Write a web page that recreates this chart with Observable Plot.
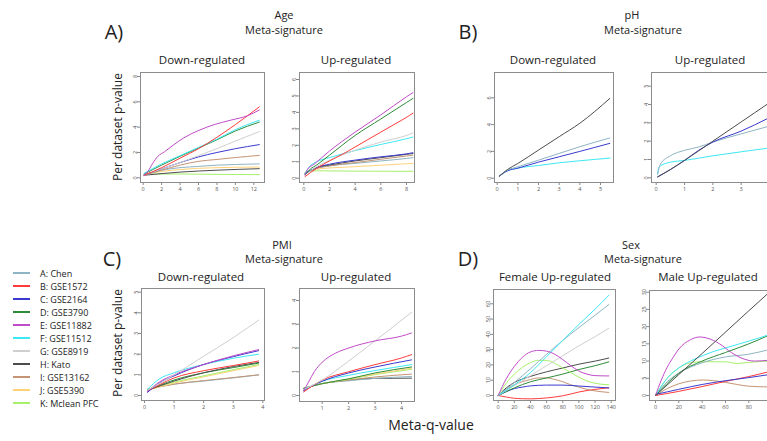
<!DOCTYPE html>
<html><head><meta charset="utf-8">
<script src="https://cdn.jsdelivr.net/npm/d3@7"></script>
<script src="https://cdn.jsdelivr.net/npm/@observablehq/plot@0.6"></script>
<style>
body{margin:0;background:#fff;}
#root{position:relative;width:767px;height:441px;overflow:hidden;font-family:"Open Sans",sans-serif;color:#222;}
.t{position:absolute;transform:translate(-50%,-50%);white-space:nowrap;line-height:1;}
.p{position:absolute;}
</style></head>
<body><div id="root"></div>
<script>
// ---- series ----
const codes = ["A","B","C","D","E","F","G","H","I","J","K"];
const seriesNames = ["A: Chen","B: GSE1572","C: GSE2164","D: GSE3790","E: GSE11882","F: GSE11512","G: GSE8919","H: Kato","I: GSE13162","J: GSE5390","K: Mclean PFC"];
const seriesColors = ["#8fb5c4","#ff3b3b","#3a3ad0","#2e8b3a","#c04cc8","#3ee8f5","#cfcfcf","#4d4d4d","#c49474","#ffd27a","#a6f06a"];

// ---- data: [series, [[meta-q, per-dataset p], ...]] ----
const ageDown = [
 ["K",[[0.1,0.3],[4,0.3],[8,0.27],[12.6,0.25]]],
 ["J",[[0.1,0.3],[2,0.5],[4,0.65],[6,0.75],[8,0.8],[12.6,0.85]]],
 ["H",[[0.1,0.2],[4,0.45],[8,0.6],[12.6,0.72]]],
 ["A",[[0.1,0.25],[2,0.6],[4,0.8],[6,0.9],[8,1.0],[10,1.05],[12.6,1.1]]],
 ["I",[[0.1,0.2],[2,0.6],[4,1.0],[6,1.3],[8,1.45],[10,1.6],[12.6,1.77]]],
 ["C",[[0.1,0.2],[2,0.7],[4,1.2],[6,1.65],[8,2.0],[10,2.3],[12.6,2.62]]],
 ["G",[[0.1,0.2],[2,0.7],[4,1.2],[6,1.75],[8,2.3],[10,2.9],[12.6,3.65]]],
 ["D",[[0.1,0.3],[2,1.0],[4,1.7],[6,2.35],[8,3.0],[10,3.7],[12.6,4.4]]],
 ["F",[[0.1,0.35],[2,1.1],[4,1.75],[6,2.4],[8,3.05],[10,3.8],[12.6,4.55]]],
 ["B",[[0.1,0.2],[2,0.8],[4,1.55],[6,2.3],[8,3.2],[10,4.2],[12.6,5.6]]],
 ["E",[[0.1,0.2],[0.5,0.5],[1,1.1],[1.6,1.7],[2.3,2.05],[3.3,2.6],[4.4,3.15],[5.9,3.7],[7.7,4.2],[9.5,4.55],[11.3,4.9],[12.6,5.35]]]
];
const ageUp = [
 ["K",[[0.1,0.35],[1,0.45],[4,0.43],[8.5,0.42]]],
 ["J",[[0.1,0.35],[1,0.55],[4,0.7],[8,0.88],[8.5,0.9]]],
 ["A",[[0.1,0.3],[1,0.6],[2,0.75],[4,0.9],[6,1.05],[8,1.2],[8.5,1.25]]],
 ["I",[[0.1,0.3],[1,0.6],[2,0.75],[4,0.95],[6,1.15],[8,1.35],[8.5,1.4]]],
 ["H",[[0.1,0.25],[1,0.65],[2,0.8],[4,1.05],[6,1.25],[8,1.45],[8.5,1.5]]],
 ["C",[[0.1,0.3],[1,0.65],[2,0.85],[4,1.1],[6,1.3],[8,1.48],[8.5,1.55]]],
 ["F",[[0.1,0.3],[0.5,0.75],[1,1.0],[2,1.25],[4,1.68],[6,2.05],[8,2.4],[8.5,2.5]]],
 ["G",[[0.1,0.2],[1,0.7],[2,1.1],[4,1.7],[6,2.2],[8,2.6],[8.5,2.75]]],
 ["B",[[0.1,0.1],[1,0.6],[2,1.05],[3,1.45],[4,1.9],[5,2.35],[6,2.8],[7,3.25],[8,3.7],[8.5,3.95]]],
 ["D",[[0.1,0.2],[0.5,0.55],[1,0.8],[2,1.4],[4,2.6],[6,3.6],[8,4.6],[8.5,4.85]]],
 ["E",[[0.1,0.2],[0.3,0.55],[0.8,0.85],[2,1.65],[4,2.8],[6,3.85],[8,4.95],[8.5,5.2]]]
];
const phDown = [
 ["F",[[0.1,0.15],[0.5,0.55],[1,0.75],[2,0.95],[3,1.15],[4,1.3],[5.45,1.5]]],
 ["C",[[0.1,0.15],[0.5,0.55],[1,0.75],[2,1.2],[3,1.6],[4,2.0],[5.45,2.6]]],
 ["A",[[0.1,0.15],[0.5,0.6],[1,0.85],[2,1.35],[3,1.85],[4,2.35],[5.45,3.0]]],
 ["H",[[0.1,0.15],[0.5,0.65],[1,1.1],[2,2.1],[3,3.1],[4,4.1],[5.45,5.95]]]
];
const phUp = [
 ["F",[[0.05,0.2],[0.1,0.6],[0.5,0.85],[1,0.95],[2,1.2],[3,1.42],[3.95,1.62]]],
 ["A",[[0.05,0.2],[0.15,0.75],[0.5,1.2],[1,1.5],[1.5,1.68],[2,1.95],[3,2.4],[3.95,2.8]]],
 ["C",[[0.05,0.05],[0.5,0.45],[1,0.95],[1.5,1.5],[2,1.95],[3,2.55],[3.95,3.25]]],
 ["H",[[0.05,0.05],[0.5,0.45],[1,0.95],[2,2.0],[3,3.05],[3.95,4.05]]]
];
const pmiDown = [
 ["A",[[0.1,0.3],[1,0.55],[2,0.7],[3,0.85],[3.86,1.0]]],
 ["I",[[0.1,0.3],[1,0.55],[2,0.72],[3,0.87],[3.86,1.0]]],
 ["J",[[0.1,0.25],[1,0.6],[2,0.9],[3,1.2],[3.86,1.45]]],
 ["K",[[0.1,0.3],[1,0.65],[2,0.95],[3,1.25],[3.86,1.5]]],
 ["D",[[0.1,0.25],[1,0.75],[2,1.1],[3,1.35],[3.86,1.57]]],
 ["H",[[0.1,0.25],[1,0.7],[2,1.1],[3,1.4],[3.86,1.6]]],
 ["B",[[0.1,0.2],[1,0.85],[2,1.2],[3,1.45],[3.86,1.67]]],
 ["F",[[0.1,0.3],[0.5,0.8],[1,1.1],[2,1.5],[3,1.8],[3.86,2.0]]],
 ["C",[[0.1,0.15],[0.5,0.6],[1,0.95],[2,1.5],[3,1.88],[3.86,2.17]]],
 ["E",[[0.1,0.2],[0.5,0.65],[1,1.0],[2,1.5],[3,1.92],[3.86,2.22]]],
 ["G",[[0.1,0.25],[1,1.0],[2,1.9],[3,2.8],[3.86,3.65]]]
];
const pmiUp = [
 ["H",[[0.3,0.3],[1,0.5],[2,0.65],[3,0.72],[4.38,0.73]]],
 ["A",[[0.3,0.3],[1,0.5],[2,0.62],[3,0.72],[4.38,0.8]]],
 ["I",[[0.3,0.3],[1,0.5],[2,0.65],[3,0.78],[4.38,0.9]]],
 ["K",[[0.3,0.3],[1,0.5],[2,0.68],[3,0.88],[4.38,1.1]]],
 ["J",[[0.3,0.3],[1,0.5],[2,0.7],[3,0.9],[4.38,1.15]]],
 ["D",[[0.3,0.3],[1,0.5],[2,0.7],[3,0.95],[4.38,1.2]]],
 ["F",[[0.3,0.25],[1,0.6],[2,0.85],[3,1.05],[4.38,1.3]]],
 ["C",[[0.3,0.2],[1,0.6],[2,0.95],[3,1.2],[4.38,1.5]]],
 ["B",[[0.3,0.15],[1,0.65],[2,1.0],[3,1.3],[4,1.58],[4.38,1.72]]],
 ["G",[[0.3,0.25],[1,0.65],[2,1.45],[3,2.3],[4.38,3.5]]],
 ["E",[[0.3,0.2],[0.5,0.6],[0.7,1.0],[1,1.4],[1.5,1.78],[2,2.0],[3,2.3],[4,2.5],[4.38,2.63]]]
];
const sexFemale = [
 ["B",[[0,0],[10,-1],[20,-1.8],[30,-2.1],[40,-2.2],[50,-2],[60,-1.6],[70,-1],[80,-0.2],[90,1],[100,2.3],[120,4],[137,5]]],
 ["I",[[0,0],[10,4],[20,7],[30,9],[40,10.5],[50,11.5],[60,11.5],[70,10.5],[80,9],[90,7],[100,5.5],[110,4],[120,3],[137,2]]],
 ["C",[[0,0],[10,2.5],[20,4.5],[30,5.5],[40,6.3],[60,6.8],[80,6.8],[100,6.2],[120,5.5],[137,5]]],
 ["D",[[0,0],[20,5],[40,9],[60,11.5],[80,14],[100,17],[120,19.5],[137,22]]],
 ["H",[[0,0],[10,5],[20,8.5],[40,12.5],[60,15.5],[80,18],[100,20.5],[120,22.5],[137,24.5]]],
 ["K",[[0,0],[10,8],[20,14],[30,18.5],[40,21.5],[50,23],[60,23],[70,21],[80,18],[90,15],[100,12],[110,9.5],[120,8],[137,7]]],
 ["G",[[0,0],[20,6.5],[40,13],[60,19.5],[80,26],[100,32.5],[120,38.5],[137,44]]],
 ["A",[[0,0],[20,8.5],[40,17.5],[60,27],[80,36],[100,44.5],[120,52.5],[137,59.5]]],
 ["F",[[0,0],[20,7],[40,15],[60,25.5],[80,36],[100,46.5],[120,56.5],[137,65.5]]],
 ["E",[[0,0],[10,11],[20,19],[30,25],[40,28.5],[50,29.5],[60,29],[70,27],[80,23.5],[90,19.5],[100,16],[110,14],[120,13],[137,12.8]]]
];
const sexMale = [
 ["I",[[0,0],[10,2],[20,3.4],[30,4.2],[40,4.5],[50,4.3],[60,3.8],[70,3.2],[80,2.7],[96,2.5]]],
 ["B",[[0,0],[20,1.2],[40,2.6],[60,4.1],[80,5.5],[96,6.8]]],
 ["C",[[0,0.3],[20,1.8],[40,3.2],[60,4.3],[80,5.2],[96,6.0]]],
 ["K",[[0,0],[10,5],[20,8],[30,9.5],[40,9.8],[60,9.8],[70,9.3],[80,9.6],[96,10]]],
 ["A",[[0,0],[10,4],[20,6.5],[40,9.5],[60,11.2],[80,12],[96,13.2]]],
 ["D",[[0,0],[10,3.5],[20,6.5],[40,10],[60,12.5],[80,15],[96,17.3]]],
 ["F",[[0,0],[10,5],[20,8],[30,10],[40,11.5],[50,12.8],[60,13.8],[70,14.8],[80,15.8],[96,17.5]]],
 ["E",[[0,0],[5,4.5],[10,8.2],[15,11],[20,13.5],[30,16.2],[38,17],[45,16.6],[55,15],[65,12.5],[75,10.7],[85,10],[96,10.2]]],
 ["H",[[0,0],[40,12.2],[80,24.6],[96,29.5]]]
];

// ---- tick labels ----
const ticksAgeDownX=[0,2,4,6,8,10,12], ticksAgeDownY=[0,2,4,6,8];
const ticksAgeUpX=[0,2,4,6,8], ticksAgeUpY=[0,1,2,3,4,5,6];
const ticksPhDownX=[0,1,2,3,4,5], ticksPhDownY=[0,2,4,6];
const ticksPhUpX=[0,1,2,3], ticksPhUpY=[0,1,2,3,4,5];
const ticksPmiDownX=[0,1,2,3,4], ticksPmiDownY=[0,1,2,3,4,5];
const ticksPmiUpX=[1,2,3,4], ticksPmiUpY=[0,1,2,3,4];
const ticksFemX=[0,20,40,60,80,100,120,140], ticksFemY=[0,10,20,30,40,50,60];
const ticksMaleX=[0,20,40,60,80], ticksMaleY=[0,5,10,15,20,25,30];

// ---- layout (page pixels) ----
const panels = [
 {data:ageDown, frame:[140,264,72,182], xcal:[[0,142.7],[12,253.3]], ycal:[[0,177.3],[8,76]], xt:ticksAgeDownX, yt:ticksAgeDownY, title:"Down-regulated", tx:202, ty:60},
 {data:ageUp, frame:[299,414,72,182], xcal:[[0,303.3],[8,406]], ycal:[[0,177.7],[6,79]], xt:ticksAgeUpX, yt:ticksAgeUpY, title:"Up-regulated", tx:356, ty:60},
 {data:phDown, frame:[494,613,72,182], xcal:[[0,496.7],[5,600]], ycal:[[0,177.7],[6,97.3]], xt:ticksPhDownX, yt:ticksPhDownY, title:"Down-regulated", tx:553, ty:60},
 {data:phUp, frame:[651,772,72,182], xcal:[[0,655.7],[3,740.7]], ycal:[[0,177.3],[5,85.7]], xt:ticksPhUpX, yt:ticksPhUpY, title:"Up-regulated", tx:710, ty:60},
 {data:pmiDown, frame:[141,264,288,400], xcal:[[0,144],[4,262.3]], ycal:[[0,395],[5,291.7]], xt:ticksPmiDownX, yt:ticksPmiDownY, title:"Down-regulated", tx:201, ty:277},
 {data:pmiUp, frame:[299,414,288,401], xcal:[[1,321.7],[4,401]], ycal:[[0,395],[4,300]], xt:ticksPmiUpX, yt:ticksPmiUpY, title:"Up-regulated", tx:356, ty:277},
 {data:sexFemale, frame:[493,615,289,400], xcal:[[0,497.7],[140,610.7]], ycal:[[0,395],[60,303.3]], xt:ticksFemX, yt:ticksFemY, title:"Female Up-regulated", tx:555, ty:277},
 {data:sexMale, frame:[649,772,290,400], xcal:[[0,655],[80,748.3]], ycal:[[0,395],[30,291.7]], xt:ticksMaleX, yt:ticksMaleY, title:"Male Up-regulated", tx:708, ty:277}
];

const root = document.getElementById("root");
function text(str, x, y, css){
  const d = document.createElement("div");
  d.className = "t"; d.textContent = str;
  d.style.left = x+"px"; d.style.top = y+"px";
  Object.assign(d.style, css||{});
  root.appendChild(d); return d;
}
function dom(cal, p0, p1){
  const [[v0,q0],[v1,q1]] = cal; const k = (v1-v0)/(q1-q0);
  return [v0+(p0-q0)*k, v0+(p1-q0)*k];
}
const ML=18, MR=2, MT=2, MB=14;
const fmt = d => String(d);
for (const p of panels){
  const [x0,x1,y0,y1] = p.frame;
  const rows = p.data.flatMap(([s,pts]) => pts.map(([x,y]) => ({s,x,y})));
  const chart = Plot.plot({
    width: (x1-x0)+ML+MR, height: (y1-y0)+MT+MB,
    marginLeft: ML, marginRight: MR, marginTop: MT, marginBottom: MB,
    x: {type:"linear", domain: dom(p.xcal, x0, x1)},
    y: {type:"linear", domain: dom(p.ycal, y1, y0)},
    color: {domain: codes, range: seriesColors},
    style: {background:"transparent", overflow:"visible", fontFamily:"Open Sans, sans-serif"},
    marks: [
      Plot.axisX({ticks: p.xt, tickFormat: fmt, tickSize: 3, tickPadding: 1.5, fontSize: 5.5, color:"#555", stroke:"#888", label: null}),
      Plot.axisY({ticks: p.yt, tickFormat: fmt, tickSize: 3, tickPadding: 1, tickRotate: -90, fontSize: 5.5, color:"#555", stroke:"#888", label: null}),
      Plot.line(rows, {x:"x", y:"y", z:"s", stroke:"s", strokeWidth: 1, curve:"monotone-x", clip: true}),
      Plot.frame({stroke:"#8c8c8c", strokeWidth: 1})
    ]
  });
  chart.classList.add("p");
  chart.style.left = (x0-ML)+"px"; chart.style.top = (y0-MT)+"px";
  root.appendChild(chart);
  text(p.title, p.tx, p.ty, {fontSize:"11.5px"});
}

// section headers
const big = {fontSize:"20px"}; const sub = {fontSize:"11px"};
text("A)", 114, 32, big); text("Age", 284, 14, sub); text("Meta-signature", 284, 28.5, sub);
text("B)", 468, 32, big); text("pH", 632, 14, sub); text("Meta-signature", 643, 28.5, sub);
text("C)", 112, 259, big); text("PMI", 282, 243.5, sub); text("Meta-signature", 284, 258, sub);
text("D)", 468, 259, big); text("Sex", 631, 243.5, sub); text("Meta-signature", 643, 258, sub);

// axis titles
text("Per dataset p-value", 118, 127, {fontSize:"12px", transform:"translate(-50%,-50%) rotate(-90deg)"});
text("Per dataset p-value", 118, 343, {fontSize:"12px", transform:"translate(-50%,-50%) rotate(-90deg)"});
text("Meta-q-value", 431, 425, {fontSize:"14px"});

// legend
seriesNames.forEach((name, i) => {
  const y = 273 + 13*i;
  const ln = document.createElement("div");
  Object.assign(ln.style, {position:"absolute", left:"13px", top:(y-0.75)+"px", width:"17px", height:"1.5px", background: seriesColors[i]});
  root.appendChild(ln);
  text(name, 40, y, {fontSize:"9px", transform:"translate(0,-50%)"});
});
</script>
</body></html>
